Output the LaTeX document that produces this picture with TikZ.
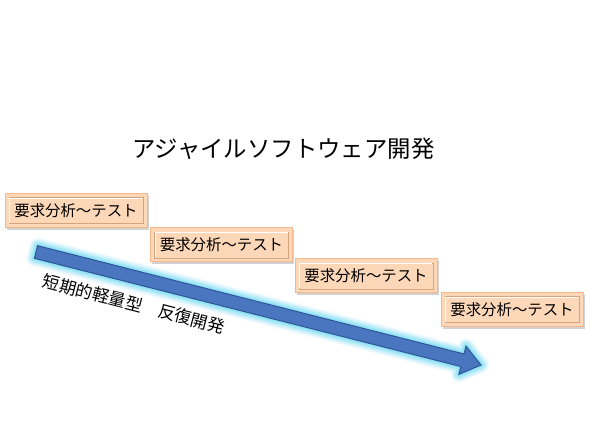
\documentclass[tikz,border=0pt]{standalone}
\usepackage{fontspec}
\setmainfont{Noto Sans CJK JP}
\usetikzlibrary{calc,shadows}
\definecolor{boxfill}{HTML}{FCD7B8}
\definecolor{boxline}{HTML}{F5B88C}
\definecolor{bevel}{HTML}{D6A47C}
\definecolor{arrowfill}{HTML}{4A76C0}
\definecolor{arrowline}{HTML}{2F5597}
\definecolor{glow}{HTML}{7ADDF5}
\tikzset{
  phase/.style={rectangle, minimum width=142pt, minimum height=34pt, inner sep=0pt,
    fill=boxfill, draw=boxline, line width=1pt,
    drop shadow={shadow xshift=1.5pt, shadow yshift=-2.5pt, fill=black!40, opacity=0.45},
    font=\fontsize{15.4pt}{18pt}\selectfont},
  bevelline/.style={draw=bevel, line width=0.8pt},
  title/.style={font=\fontsize{23.4pt}{28pt}\selectfont},
  lbl/.style={font=\fontsize{17pt}{20pt}\selectfont, rotate=-14.5},
}
\begin{document}
\begin{tikzpicture}[x=1pt,y=-1pt]
\useasboundingbox (0,0) rectangle (590,443);
\fill[white] (0,0) rectangle (590,443);

\node[title] (t) at (283.5,149) {アジャイルソフトウェア開発};

% arrow geometry
\coordinate (T) at (36,252);
\coordinate (Tip) at (481,365);
\coordinate (H) at ($(T)!440pt!(Tip)$);
\coordinate (a1) at ($(T)!6.5pt!90:(Tip)$);
\coordinate (a2) at ($(T)!6.5pt!-90:(Tip)$);
\coordinate (b1) at ($(H)!6.5pt!-90:(T)$);
\coordinate (b2) at ($(H)!6.5pt!90:(T)$);
\coordinate (c1) at ($(H)!14.5pt!-90:(T)$);
\coordinate (c2) at ($(H)!14.5pt!90:(T)$);
\def\arrowpath{(a1) -- (b1) -- (c1) -- (Tip) -- (c2) -- (b2) -- (a2) -- cycle}
\foreach \w/\o in {16/0.12,13/0.18,10/0.25,7/0.35,4/0.5}{
  \draw[glow, line width=\w pt, line join=round, opacity=\o] \arrowpath;
}
\draw[fill=arrowfill, draw=arrowline, line width=1pt, line join=miter] \arrowpath;

\node[lbl] (l) at (134,304) {短期的軽量型　反復開発};

\node[phase] (p1) at (76,210.5) {要求分析～テスト};
\node[phase] (p2) at (221.5,245) {要求分析～テスト};
\node[phase] (p3) at (366,276) {要求分析～テスト};
\node[phase] (p4) at (512,309.5) {要求分析～テスト};
\foreach \n in {p1,p2,p3,p4}{
  \draw[bevelline] ([shift={(4.5pt,-4.5pt)}]\n.north west) rectangle ([shift={(-4.5pt,4.5pt)}]\n.south east);
  \draw[white, line width=0.8pt] ([shift={(5.2pt,5.2pt)}]\n.south west) |- ([shift={(-5.2pt,-5.2pt)}]\n.north east);
}
\end{tikzpicture}
\end{document}
